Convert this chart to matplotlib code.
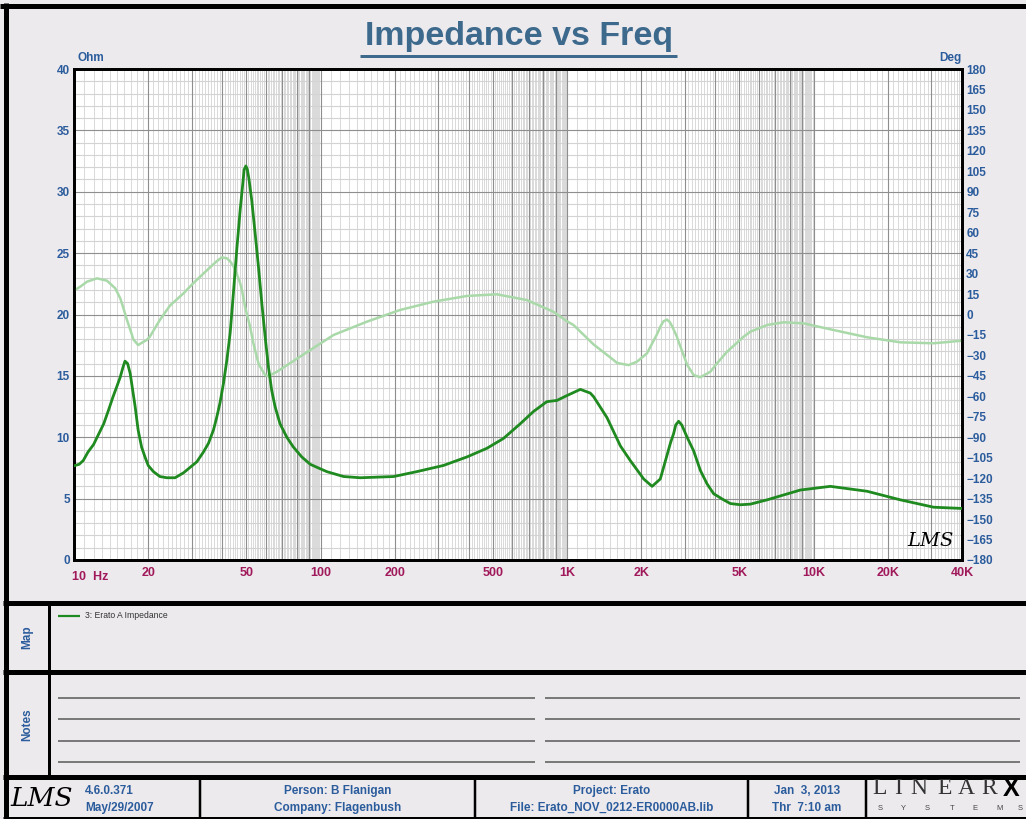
import matplotlib
matplotlib.use("Agg")
import matplotlib.pyplot as plt
from matplotlib.ticker import NullFormatter, FixedLocator

# ---------------- data ----------------
imp_freq_hz = [10.1, 10.5, 10.9, 11.4, 12.0, 12.55, 13.2, 13.8, 14.4, 14.9, 15.4, 15.8, 16.1,
               16.5, 16.9, 17.7, 18.2, 18.8, 19.4, 20.0, 21.0, 22.3, 23.8, 25.7, 27.8, 31.5,
               33.5, 35.1, 36.8, 37.9, 39.1, 40.4, 41.7, 43.0, 44.3, 45.7, 47.2, 48.4, 49.0,
               49.8, 50.5, 51.2, 52.6, 54.3, 56.0, 57.8, 59.6, 61.5, 63.4, 65.4, 68.5, 73.0,
               77.6, 83.9, 90.8, 98, 106, 124, 145, 198, 246, 315, 393, 473, 552, 646, 731,
               828, 910, 1000, 1132, 1242, 1282, 1452, 1645, 1805, 2046, 2213, 2389, 2624,
               2706, 2760, 2835, 2920, 3069, 3261, 3473, 3698, 3932, 4318, 4596, 5047, 5540,
               6477, 7562, 8838, 11690, 16480, 22500, 30700, 40000]
imp_ohm = [7.7, 7.8, 8.1, 8.8, 9.4, 10.2, 11.1, 12.2, 13.3, 14.1, 14.9, 15.7, 16.2,
           16.0, 15.2, 12.5, 10.6, 9.2, 8.4, 7.7, 7.2, 6.8, 6.7, 6.7, 7.1, 8.0,
           8.8, 9.5, 10.6, 11.6, 12.8, 14.4, 16.3, 18.5, 21.7, 25.2, 28.5, 30.7, 31.8,
           32.1, 31.8, 31.1, 29.3, 26.6, 23.9, 20.9, 18.2, 15.7, 13.8, 12.5, 11.1, 10.0,
           9.2, 8.4, 7.8, 7.5, 7.2, 6.8, 6.7, 6.8, 7.2, 7.7, 8.4, 9.1, 9.9, 11.1, 12.1,
           12.9, 13.0, 13.4, 13.9, 13.6, 13.3, 11.6, 9.3, 8.1, 6.6, 6.0, 6.6, 9.5,
           10.3, 11.0, 11.3, 11.0, 10.0, 8.9, 7.3, 6.2, 5.4, 4.9, 4.6, 4.5, 4.55,
           4.9, 5.3, 5.7, 6.0, 5.6, 4.9, 4.3, 4.2]

ph_freq_hz = [10.1, 10.6, 11.3, 12.4, 13.6, 14.7, 15.4, 15.8, 16.4, 17.1, 17.4, 18.2,
              18.5, 19.7, 20.3, 22.3, 24.5, 27.8, 30.5, 33.5, 35.6, 37.9, 39.8, 41.7, 43.0,
              44.3, 45.7, 47.2, 48.0, 49.4, 51.8, 53.4, 56.0, 56.9, 59.6, 61.5, 66.5, 82.6,
              113, 154, 210, 287, 393, 519, 687, 881, 1000, 1062, 1282, 1545, 1594, 1776,
              1921, 2109, 2316, 2389, 2460, 2543, 2610, 2666, 2790, 2835, 3069, 3261, 3473,
              3811, 4058, 4457, 5200, 5540, 6477, 7570, 9120, 12070, 16480, 22500, 30700, 40000]
ph_deg = [18, 20.4, 24.1, 26.5, 24.8, 19.2, 11.9, 5.7, -4.0, -13.8, -18.2, -22.4,
          -21.6, -18.7, -16.3, -4.0, 6.5, 15.5, 23.0, 30.0, 34.5, 39.0, 41.9, 41.2, 39.0,
          35.5, 30.0, 22.9, 18, 5.7, -8.9, -21.1, -35.8, -38.3, -44.4, -45.1, -42.0, -30.9,
          -15, -5.3, 3.3, 9.4, 13.6, 14.8, 10.6, 2.0, -5.0, -7.7, -22, -33.4, -35.5, -37.1,
          -34.6, -28.5, -14.5, -9.0, -5.0, -3.8, -5.5, -8.5, -16.3, -20.0, -36.8, -44.4, -46.0,
          -42, -35.8, -27.3, -16.3, -12.6, -7.7, -5.7, -6.5, -11.4, -16.7, -20.4, -21.1, -19.2]

x_tick_vals = [20, 50, 100, 200, 500, 1000, 2000, 5000, 10000, 20000, 40000]
x_tick_labels = ["20", "50", "100", "200", "500", "1K", "2K", "5K", "10K", "20K", "40K"]
ohm_ticks = list(range(0, 41, 5))
deg_ticks = list(range(-180, 181, 15))

# ---------------- style ----------------
W, H = 1026, 819
BG = "#EDEAEE"
BLUE = "#2B5C9C"
CRIMSON = "#A0195A"
TITLE_C = "#3D6A8C"
DARK_G = "#1F8A1F"
LIGHT_G = "#A9D9A9"
GRID_MAJ = "#8E8E8E"
GRID_MIN = "#D3D3D3"
FONT = "Liberation Sans"

plt.rcParams["font.family"] = [FONT, "DejaVu Sans"]

fig = plt.figure(figsize=(W / 100, H / 100), dpi=100, facecolor=BG)

def px(x0, y0, x1, y1):
    return [x0 / W, 1 - y1 / H, (x1 - x0) / W, (y1 - y0) / H]

# overlay for frame / text in pixel coordinates
ov = fig.add_axes([0, 0, 1, 1], zorder=-1)
ov.set_xlim(0, W)
ov.set_ylim(H, 0)
ov.axis("off")
ov.patch.set_visible(False)

def hline(y, x0, x1, lw, c="black"):
    ov.plot([x0, x1], [y, y], color=c, lw=lw, solid_capstyle="butt")

def vline(x, y0, y1, lw, c="black"):
    ov.plot([x, x], [y0, y1], color=c, lw=lw, solid_capstyle="butt")

L = 0.72  # px -> pt
hline(5.5, 0, W, 5 * L)
vline(5.5, 3, H, 5 * L)
hline(602.5, 3, W, 5 * L)
hline(671.5, 3, W, 5 * L)
hline(777.0, 3, W, 5 * L)
hline(817.5, 3, W, 3 * L)
vline(48.5, 602, 777, 3 * L)
for xv in [200, 475, 748, 866]:
    vline(xv, 777, H, 2.5 * L)

# notes lines
for yv in [698, 719, 741, 762]:
    hline(yv, 58, 535, 1.5 * L, "#555555")
    hline(yv, 545, 1020, 1.5 * L, "#555555")

# title
ov.text(519, 37, "Impedance vs Freq", ha="center", va="center", fontsize=24.5,
        fontweight="bold", color=TITLE_C)
hline(55.5, 360, 677, 3 * L, TITLE_C)
ov.text(78, 58, "Ohm", ha="left", va="center", fontsize=8.5, fontweight="bold", color=BLUE)
ov.text(962, 58, "Deg", ha="right", va="center", fontsize=8.5, fontweight="bold", color=BLUE)

# side labels
ov.text(27, 637, "Map", rotation=90, ha="center", va="center", fontsize=8.5,
        fontweight="bold", color=BLUE)
ov.text(27, 725, "Notes", rotation=90, ha="center", va="center", fontsize=8.5,
        fontweight="bold", color=BLUE)

# legend in map
hline(615.5, 58, 80, 2.2 * L, DARK_G)
ov.text(85, 615.5, "3: Erato A Impedance", ha="left", va="center", fontsize=6.2, color="#333333")

# footer
ov.text(42, 798, "LMS", ha="center", va="center", fontsize=19, fontstyle="italic",
        family="DejaVu Serif", color="black")
ov.text(85, 791, "4.6.0.371", ha="left", va="center", fontsize=8.5, fontweight="bold", color=BLUE)
ov.text(85, 808, "May/29/2007", ha="left", va="center", fontsize=8.5, fontweight="bold", color=BLUE)
ov.text(338, 791, "Person: B Flanigan", ha="center", va="center", fontsize=8.5, fontweight="bold", color=BLUE)
ov.text(338, 808, "Company: Flagenbush", ha="center", va="center", fontsize=8.5, fontweight="bold", color=BLUE)
ov.text(612, 791, "Project: Erato", ha="center", va="center", fontsize=8.5, fontweight="bold", color=BLUE)
ov.text(612, 808, "File: Erato_NOV_0212-ER0000AB.lib", ha="center", va="center", fontsize=8.5,
        fontweight="bold", color=BLUE)
ov.text(807, 791, "Jan  3, 2013", ha="center", va="center", fontsize=8.5, fontweight="bold", color=BLUE)
ov.text(807, 808, "Thr  7:10 am", ha="center", va="center", fontsize=8.5, fontweight="bold", color=BLUE)
for ch, xc in zip("LINEAR", [880, 898, 919, 945, 966, 989]):
    ov.text(xc, 789, ch, ha="center", va="center", fontsize=17, family="Liberation Serif",
            color="#333333")
ov.text(1011, 789, "X", ha="center", va="center", fontsize=18, fontweight="bold", color="black")
for ch, xc in zip("SYSTEMS", [880, 903, 927, 952, 975, 1000, 1020]):
    ov.text(xc, 809, ch, ha="center", va="center", fontsize=5.5, color="#444444")

# ---------------- main chart ----------------
rect = px(74, 69, 962, 560)
ax = fig.add_axes(rect, zorder=1)
ax.set_facecolor("white")
ax.set_xscale("log")
ax.set_xlim(10, 40000)
ax.set_ylim(0, 40)

# grid
major_x = [m * 10 ** e for e in range(1, 5) for m in range(1, 10) if 10 <= m * 10 ** e <= 40000]
minor_x = [m * 10 ** e for e in range(0, 4) for m in range(10, 100)
           if 10 <= m * 10 ** e <= 40000 and m % 10 != 0]
ax.xaxis.set_major_locator(FixedLocator(x_tick_vals))
ax.xaxis.set_minor_locator(FixedLocator(minor_x))
ax.xaxis.set_minor_formatter(NullFormatter())
ax.set_xticklabels(x_tick_labels)
for xv in minor_x:
    ax.axvline(xv, color=GRID_MIN, lw=0.6, zorder=0.5)
for xv in major_x:
    ax.axvline(xv, color=GRID_MAJ, lw=0.8, zorder=0.7)
for yv in range(0, 41):
    if yv % 5:
        ax.axhline(yv, color=GRID_MIN, lw=0.8, zorder=0.6)
for yv in range(5, 40, 5):
    ax.axhline(yv, color=GRID_MAJ, lw=0.8, zorder=0.7)

ax.set_yticks(ohm_ticks)
ax.tick_params(axis="both", which="both", length=0)
ax.tick_params(axis="y", pad=3)
ax.tick_params(axis="x", pad=5)
for t in ax.get_yticklabels():
    t.set_fontweight("bold"); t.set_color(BLUE); t.set_fontsize(8.5)
for t in ax.get_xticklabels():
    t.set_fontweight("bold"); t.set_color(CRIMSON); t.set_fontsize(9)
for s in ax.spines.values():
    s.set_linewidth(2)
    s.set_color("black")
ax.text(9.85, -0.9, "10  Hz", ha="left", va="top", fontsize=9, fontweight="bold",
        color=CRIMSON, transform=ax.transData)

# phase axis
ax2 = ax.twinx()
ax2.set_ylim(-180, 180)
ax2.set_yticks(deg_ticks)
ax2.tick_params(axis="y", length=0, pad=3)
for t in ax2.get_yticklabels():
    t.set_fontweight("bold"); t.set_color(BLUE); t.set_fontsize(8.5)
ax2.plot(ph_freq_hz, ph_deg, color=LIGHT_G, lw=1.8, solid_joinstyle="round")
for s in ax2.spines.values():
    s.set_linewidth(2)

# impedance on top
ax3 = ax.twinx()
ax3.set_ylim(0, 40)
ax3.set_yticks([])
ax3.plot(imp_freq_hz, imp_ohm, color=DARK_G, lw=2.0, solid_joinstyle="round")
for s in ax3.spines.values():
    s.set_visible(False)

# LMS logo in plot
ax3.text(0.964, 0.039, "LMS", transform=ax3.transAxes, ha="center", va="center",
         fontsize=14, fontstyle="italic", family="DejaVu Serif", color="black")

fig.savefig("out.png", dpi=100, facecolor=BG)
